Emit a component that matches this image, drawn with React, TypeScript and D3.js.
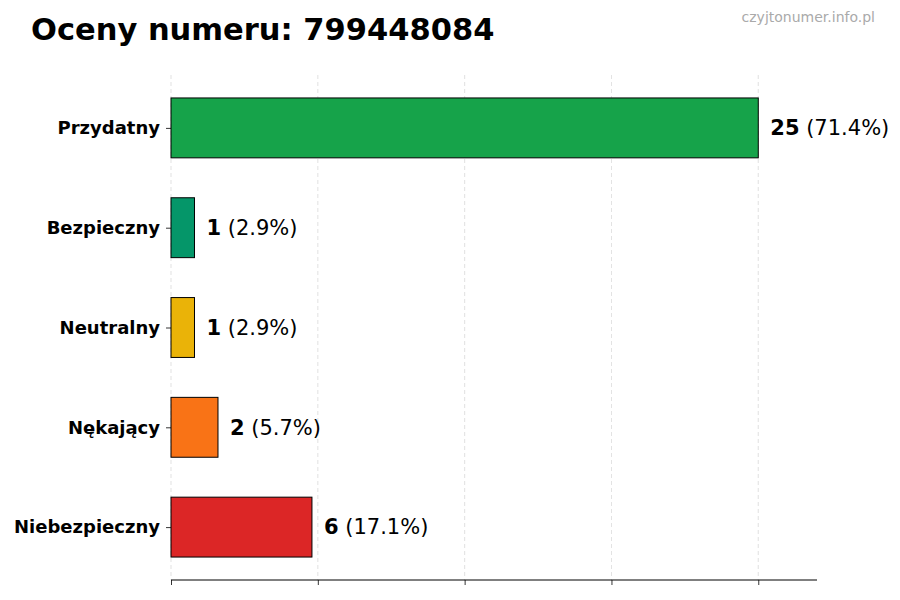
import { useEffect, useRef } from 'react'
import * as d3 from 'd3'

const categories = ['Przydatny', 'Bezpieczny', 'Neutralny', 'Nękający', 'Niebezpieczny']
const counts = [25, 1, 1, 2, 6]
const percents = ['71.4%', '2.9%', '2.9%', '5.7%', '17.1%']
const barColors = ['#16a34a', '#059669', '#eab308', '#f97316', '#dc2626']
const xTicks = [0, 6.25, 12.5, 18.75, 25]

const FONT = 'DejaVu Sans, sans-serif'

export default function App() {
  const ref = useRef<SVGSVGElement>(null)

  useEffect(() => {
    if (!ref.current) return
    d3.select(ref.current).selectAll('*').remove()
    render(ref.current)
  }, [])

  return (
    <svg
      ref={ref}
      width={900}
      height={600}
      style={{ display: 'block', position: 'absolute', left: 0, top: 0, background: '#fff' }}
    />
  )
}

function render(el: SVGSVGElement) {
  const W = 900
  const H = 600
  const plot = { left: 171, right: 817, top: 75, bottom: 580 }

  const svg = d3.select(el).attr('viewBox', `0 0 ${W} ${H}`).style('font-family', FONT)

  const maxV = d3.max(counts)!
  const x = d3.scaleLinear().domain([0, maxV * 1.1]).range([plot.left, plot.right])
  const y = d3.scalePoint<string>().domain(categories).range([plot.top, plot.bottom]).padding(0.53)
  const barH = y.step() * 0.6

  // Grid
  svg.append('g')
    .selectAll('line')
    .data(xTicks)
    .join('line')
    .attr('x1', (d) => x(d))
    .attr('x2', (d) => x(d))
    .attr('y1', plot.top)
    .attr('y2', plot.bottom)
    .attr('stroke', '#cccccc')
    .attr('stroke-width', 0.8)
    .attr('stroke-dasharray', '4,3')
    .attr('opacity', 0.7)

  // Bars
  svg.append('g')
    .selectAll('rect')
    .data(categories)
    .join('rect')
    .attr('x', x(0))
    .attr('y', (d) => y(d)! - barH / 2)
    .attr('width', (_, i) => x(counts[i]) - x(0))
    .attr('height', barH)
    .attr('fill', (_, i) => barColors[i])
    .attr('stroke', '#000')
    .attr('stroke-width', 1)

  // Value labels
  categories.forEach((c, i) => {
    const t = svg.append('text')
      .attr('x', x(counts[i]) + 12)
      .attr('y', y(c)!)
      .attr('dy', '0.35em')
      .attr('font-size', 21)
      .attr('fill', '#000')
    t.append('tspan').attr('font-weight', 'bold').text(String(counts[i]))
    t.append('tspan').text(` (${percents[i]})`)
  })

  // Y axis
  svg.append('g')
    .attr('transform', `translate(${plot.left},0)`)
    .call(d3.axisLeft(y).tickSize(5).tickPadding(6))
    .call((sel) => sel.select('.domain').remove())
    .call((sel) => sel.selectAll('line').attr('stroke', '#000').attr('stroke-width', 0.8))
    .call((sel) =>
      sel.selectAll('text')
        .attr('font-size', 18)
        .attr('font-weight', 'bold')
        .attr('font-family', FONT)
        .attr('fill', '#000')
    )

  // X axis
  svg.append('g')
    .attr('transform', `translate(0,${plot.bottom})`)
    .call(d3.axisBottom(x).tickValues(xTicks).tickSize(5).tickFormat(() => ''))
    .call((sel) => sel.select('.domain').attr('stroke', '#000').attr('stroke-width', 1).attr('d', `M${plot.left},0H${plot.right}`))
    .call((sel) => sel.selectAll('line').attr('stroke', '#000').attr('stroke-width', 0.8))

  // Title
  svg.append('text')
    .attr('x', 31)
    .attr('y', 40)
    .attr('font-size', 30.5)
    .attr('font-weight', 'bold')
    .attr('fill', '#000')
    .text('Oceny numeru: 799448084')

  // Watermark
  svg.append('text')
    .attr('x', 875)
    .attr('y', 22)
    .attr('text-anchor', 'end')
    .attr('font-size', 14)
    .attr('fill', '#aaaaaa')
    .text('czyjtonumer.info.pl')
}
